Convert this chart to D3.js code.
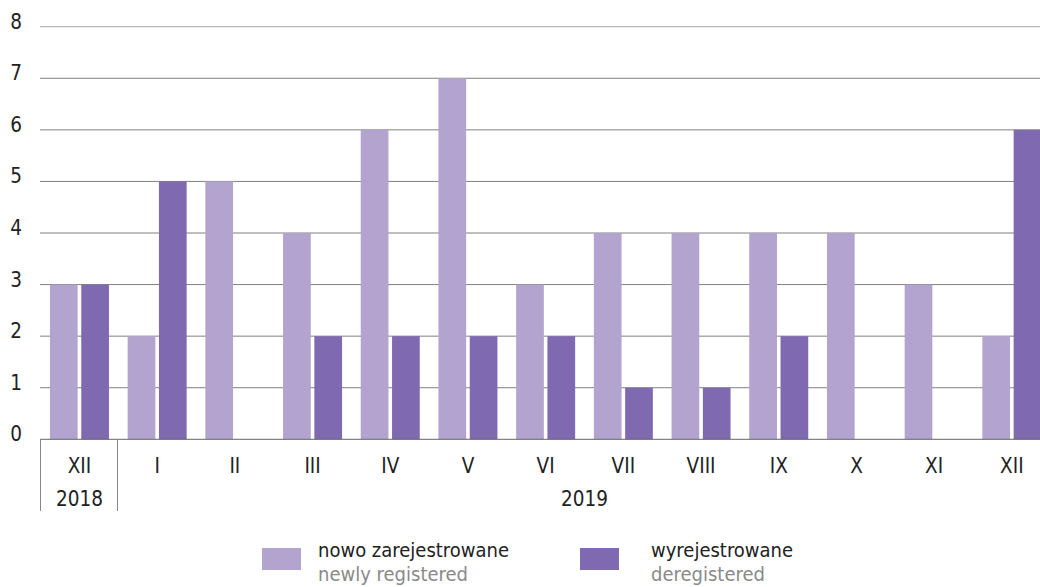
<!DOCTYPE html>
<html>
<head>
<meta charset="utf-8">
<script src="https://cdn.jsdelivr.net/npm/d3@7"></script>
<style>
  body { margin: 0; background: #fff; }
  text { font-family: "Liberation Sans Narrow", "DejaVu Sans Condensed", "Roboto", sans-serif; fill: #222; }
</style>
</head>
<body>
<div id="app"></div>
<script>
const months = ['XII', 'I', 'II', 'III', 'IV', 'V', 'VI', 'VII', 'VIII', 'IX', 'X', 'XI', 'XII']
const years = [{ label: '2018', from: 0, to: 1 }, { label: '2019', from: 1, to: 13 }]
const newlyRegistered = [3, 2, 5, 4, 6, 7, 3, 4, 4, 4, 4, 3, 2]
const deregistered = [3, 5, 0, 2, 2, 2, 2, 1, 1, 2, 0, 0, 6]
const yTicks = [0, 1, 2, 3, 4, 5, 6, 7, 8]

const W = 1040, H = 587
const light = '#b3a3cf', dark = '#7f69b0'

const svg = d3.select('#app').append('svg')
  .attr('width', W)
  .attr('height', H)

const x = d3.scaleBand()
  .domain(d3.range(months.length))
  .range([40.6, 40.6 + 77.7 * months.length])

const y = d3.scaleLinear()
  .domain([0, 8])
  .range([439.3, 26.7])

// gridlines
svg.append('g').selectAll('line')
  .data(yTicks.filter(d => d > 0))
  .join('line')
  .attr('x1', 40).attr('x2', W)
  .attr('y1', d => y(d)).attr('y2', d => y(d))
  .attr('stroke', d => d === 8 ? '#a5a5a5' : '#808080')
  .attr('stroke-width', 1)

svg.append('g').selectAll('text')
  .data(yTicks)
  .join('text')
  .attr('x', 16)
  .attr('y', d => y(d) - 4)
  .attr('text-anchor', 'middle')
  .attr('dominant-baseline', 'middle')
  .attr('font-size', 20.5)
  .text(d => d)

// bars
const bw = 27.7, gap = 1.8
svg.append('g').selectAll('rect')
  .data(newlyRegistered)
  .join('rect')
  .attr('x', (d, i) => x(i) + x.bandwidth() / 2 - gap - bw)
  .attr('y', d => y(d))
  .attr('width', bw)
  .attr('height', d => y(0) - y(d))
  .attr('fill', light)

svg.append('g').selectAll('rect')
  .data(deregistered)
  .join('rect')
  .attr('x', (d, i) => x(i) + x.bandwidth() / 2 + gap)
  .attr('y', d => y(d))
  .attr('width', bw)
  .attr('height', d => y(0) - y(d))
  .attr('fill', dark)

// x axis line
svg.append('line')
  .attr('x1', 40).attr('x2', W)
  .attr('y1', y(0)).attr('y2', y(0))
  .attr('stroke', '#666')

// year separators
svg.append('g').selectAll('line')
  .data(years)
  .join('line')
  .attr('x1', d => Math.round(x(d.from)) - 0.5)
  .attr('x2', d => Math.round(x(d.from)) - 0.5)
  .attr('y1', y(0)).attr('y2', 511)
  .attr('stroke', '#888')

svg.append('g').selectAll('text')
  .data(months)
  .join('text')
  .attr('x', (d, i) => x(i) + x.bandwidth() / 2)
  .attr('y', 467)
  .attr('text-anchor', 'middle')
  .attr('dominant-baseline', 'middle')
  .attr('font-size', 20.5)
  .text(d => d)

svg.append('g').selectAll('text')
  .data(years)
  .join('text')
  .attr('x', d => (x(d.from) + x(d.to - 1) + x.bandwidth()) / 2)
  .attr('y', 500)
  .attr('text-anchor', 'middle')
  .attr('dominant-baseline', 'middle')
  .attr('font-size', 20.5)
  .text(d => d.label)

// legend
const legend = [
  { pl: 'nowo zarejestrowane', en: 'newly registered', color: light, x: 262, tx: 56 },
  { pl: 'wyrejestrowane', en: 'deregistered', color: dark, x: 580, tx: 71 }
]
const lg = svg.append('g').selectAll('g')
  .data(legend)
  .join('g')
  .attr('transform', d => `translate(${d.x}, 0)`)

lg.append('rect')
  .attr('x', 0).attr('y', 548)
  .attr('width', 39).attr('height', 22)
  .attr('fill', d => d.color)

lg.append('text')
  .attr('x', d => d.tx)
  .attr('y', 551)
  .attr('dominant-baseline', 'middle')
  .attr('font-size', 20)
  .text(d => d.pl)

lg.append('text')
  .attr('x', d => d.tx)
  .attr('y', 575)
  .attr('dominant-baseline', 'middle')
  .attr('font-size', 20)
  .style('fill', '#8a8a8a')
  .text(d => d.en)
</script>
</body>
</html>
